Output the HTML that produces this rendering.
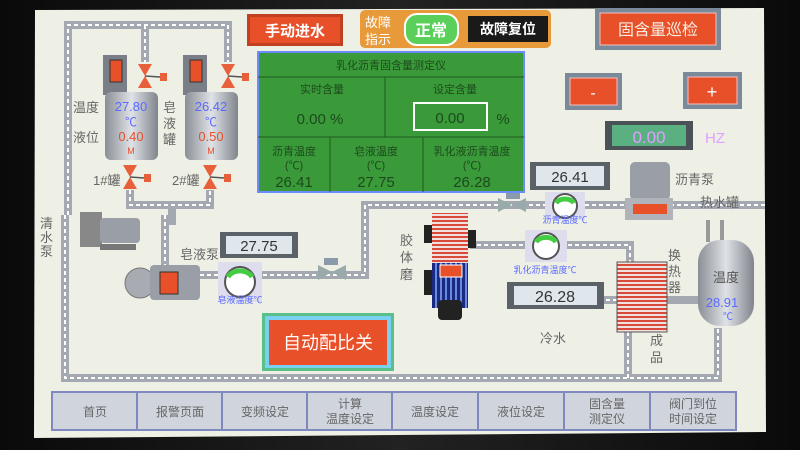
<!DOCTYPE html>
<html><head><meta charset="utf-8"><style>
body{margin:0;width:800px;height:450px;overflow:hidden;background:#111;}
svg{display:block}
text{font-family:"Liberation Sans","Noto Sans CJK SC",sans-serif;}
</style></head><body>
<svg width="800" height="450" viewBox="0 0 800 450" xmlns="http://www.w3.org/2000/svg">
<defs>
<pattern id="rs" width="4" height="4" patternUnits="userSpaceOnUse"><rect width="4" height="4" fill="#f0e0e0"/><rect width="4" height="2" fill="#d84a3a"/></pattern>
<pattern id="bs" width="5" height="5" patternUnits="userSpaceOnUse"><rect width="5" height="5" fill="#1a2a80"/><rect width="2" height="5" fill="#6a8ae0"/></pattern>
<linearGradient id="tk" x1="0" x2="1"><stop offset="0" stop-color="#8a8e96"/><stop offset=".5" stop-color="#dfe2e6"/><stop offset="1" stop-color="#80848c"/></linearGradient>
<linearGradient id="bz" x1="0" x2="1"><stop offset="0" stop-color="#0a0a0a"/><stop offset=".5" stop-color="#222"/><stop offset="1" stop-color="#0a0a0a"/></linearGradient>
</defs>
<rect width="800" height="450" fill="url(#bz)"/>
<!-- screen -->
<polygon points="35,10 764,8 766,432 34,438" fill="#eef0e6"/>

<!-- pipes -->
<g fill="none" stroke-linejoin="miter">
<g stroke="#a4a8b0" stroke-width="8">
<polyline points="68,215 68,25 228,25 228,62"/>
<line x1="145" y1="25" x2="145" y2="62"/>
<polyline points="130,190 130,205 210,205 210,190"/>
<line x1="172" y1="205" x2="172" y2="225"/>
<polyline points="65,215 65,378 718,378 718,328"/>
<line x1="165" y1="215" x2="165" y2="270"/>
<polyline points="200,275 365,275 365,205 640,205"/>
<line x1="670" y1="205" x2="765" y2="205"/>
<polyline points="470,245 630,245 630,262"/>
<line x1="515" y1="300" x2="617" y2="300"/>
<line x1="667" y1="300" x2="700" y2="300"/>
<line x1="628" y1="332" x2="628" y2="380"/>
</g>
<g stroke="#fff" stroke-width="2" stroke-dasharray="4 3">
<polyline points="68,215 68,25 228,25 228,62"/>
<line x1="145" y1="25" x2="145" y2="62"/>
<polyline points="130,190 130,205 210,205 210,190"/>
<polyline points="65,215 65,378 718,378 718,328"/>
<line x1="165" y1="215" x2="165" y2="270"/>
<polyline points="200,275 365,275 365,205 640,205"/>
<line x1="670" y1="205" x2="765" y2="205"/>
<polyline points="470,245 630,245 630,262"/>
<line x1="515" y1="300" x2="617" y2="300"/>
<line x1="628" y1="332" x2="628" y2="380"/>
</g>
</g>

<!-- tanks -->
<g>
<rect x="103" y="55" width="24" height="40" fill="#7a7e86"/><rect x="110" y="60" width="12" height="22" fill="#e8502a" stroke="#333"/>
<rect x="105" y="92" width="53" height="68" rx="6" fill="url(#tk)"/>
<rect x="183" y="55" width="24" height="40" fill="#7a7e86"/><rect x="190" y="60" width="12" height="22" fill="#e8502a" stroke="#333"/>
<rect x="185" y="92" width="53" height="68" rx="6" fill="url(#tk)"/>
<text x="131" y="111" font-size="13" fill="#5a6aff" text-anchor="middle">27.80</text>
<text x="131" y="126" font-size="12" fill="#5a6aff" text-anchor="middle">℃</text>
<text x="131" y="141" font-size="13" fill="#e8502a" text-anchor="middle">0.40</text>
<text x="131" y="154" font-size="9" fill="#e8502a" text-anchor="middle">M</text>
<text x="211" y="111" font-size="13" fill="#5a6aff" text-anchor="middle">26.42</text>
<text x="211" y="126" font-size="12" fill="#5a6aff" text-anchor="middle">℃</text>
<text x="211" y="141" font-size="13" fill="#e8502a" text-anchor="middle">0.50</text>
<text x="211" y="154" font-size="9" fill="#e8502a" text-anchor="middle">M</text>
</g>
<!-- valves -->
<g fill="#e8603a">
<polygon points="138,64 152,64 145,76"/><polygon points="138,88 152,88 145,76"/><rect x="160" y="73" width="7" height="8"/>
<polygon points="221,64 235,64 228,76"/><polygon points="221,88 235,88 228,76"/><rect x="242" y="73" width="7" height="8"/>
<polygon points="123,165 137,165 130,177"/><polygon points="123,189 137,189 130,177"/><rect x="144" y="174" width="7" height="8"/>
<polygon points="203,165 217,165 210,177"/><polygon points="203,189 217,189 210,177"/><rect x="224" y="174" width="7" height="8"/>
</g>
<g stroke="#555" stroke-width="1.5"><line x1="145" y1="76" x2="160" y2="77"/><line x1="228" y1="76" x2="242" y2="77"/><line x1="130" y1="177" x2="144" y2="178"/><line x1="210" y1="177" x2="224" y2="178"/></g>
<g font-size="13" fill="#666">
<text x="73" y="112">温度</text><text x="73" y="142">液位</text>
<text x="93" y="185">1#罐</text><text x="172" y="185">2#罐</text>
<text x="163" y="112">皂</text><text x="163" y="128">液</text><text x="163" y="144">罐</text>
<text x="40" y="228">清</text><text x="40" y="242">水</text><text x="40" y="256">泵</text>
<text x="180" y="259">皂液泵</text>
<text x="400" y="245">胶</text><text x="400" y="262">体</text><text x="400" y="279">磨</text>
<text x="540" y="343">冷水</text>
<text x="668" y="260">换</text><text x="668" y="276">热</text><text x="668" y="292">器</text>
<text x="650" y="345">成</text><text x="650" y="362">品</text>
<text x="700" y="207">热水罐</text>
<text x="675" y="184">沥青泵</text>
</g>

<!-- clear water pump -->
<rect x="80" y="212" width="22" height="35" fill="#888"/><rect x="100" y="218" width="40" height="25" rx="4" fill="#9a9ea6"/><rect x="100" y="244" width="36" height="6" fill="#777"/>
<!-- soap pump -->
<circle cx="140" cy="283" r="15" fill="#a8acb2" stroke="#777"/><rect x="150" y="265" width="50" height="35" rx="4" fill="#9a9ea6"/><rect x="160" y="272" width="18" height="22" fill="#e8502a" stroke="#333"/>
<!-- displays -->
<rect x="220" y="232" width="78" height="26" fill="#5a6268"/><rect x="226" y="236" width="66" height="18" fill="#dfe6ec"/><text x="259" y="251" font-size="15" fill="#333" text-anchor="middle">27.75</text>
<rect x="530" y="162" width="80" height="28" fill="#5a6268"/><rect x="536" y="166" width="68" height="20" fill="#dfe6ec"/><text x="570" y="182" font-size="15" fill="#333" text-anchor="middle">26.41</text>
<rect x="507" y="282" width="97" height="27" fill="#5a6268"/><rect x="514" y="286" width="83" height="19" fill="#dfe6ec"/><text x="555" y="302" font-size="16" fill="#333" text-anchor="middle">26.28</text>
<!-- gauges -->
<g>
<rect x="218" y="262" width="44" height="40" fill="#dde"/><circle cx="240" cy="282" r="15" fill="#fff" stroke="#555" stroke-width="2"/><path d="M228,277 A13,10 0 0 1 252,277" stroke="#4c4" stroke-width="5" fill="none"/>
<text x="240" y="303" font-size="9" fill="#5a6aff" text-anchor="middle">皂液温度℃</text>
<rect x="525" y="230" width="42" height="32" fill="#dde"/><circle cx="546" cy="246" r="13" fill="#fff" stroke="#555" stroke-width="2"/><path d="M536,242 A11,8 0 0 1 556,242" stroke="#4c4" stroke-width="5" fill="none"/>
<text x="545" y="273" font-size="9" fill="#5a6aff" text-anchor="middle">乳化沥青温度℃</text>
<rect x="545" y="192" width="40" height="28" fill="#dde"/><circle cx="565" cy="206" r="12" fill="#fff" stroke="#555" stroke-width="2"/><path d="M556,203 A10,7 0 0 1 574,203" stroke="#4c4" stroke-width="5" fill="none"/>
<text x="565" y="223" font-size="9" fill="#5a6aff" text-anchor="middle">沥青温度℃</text>
</g>
<!-- valves on line -->
<polygon points="318,265 318,280 332,272" fill="#9aa"/><polygon points="346,265 346,280 332,272" fill="#9aa"/><rect x="324" y="258" width="14" height="7" fill="#8a9aaa"/>
<polygon points="498,198 498,212 512,205" fill="#9aa"/><polygon points="526,198 526,212 512,205" fill="#9aa"/><rect x="506" y="193" width="14" height="6" fill="#8a9aaa"/>
<!-- asphalt pump -->
<rect x="630" y="162" width="40" height="38" rx="5" fill="#9a9ea6"/><rect x="625" y="198" width="48" height="22" fill="#b0b4ba"/><rect x="633" y="204" width="34" height="10" fill="#e8502a"/>
<!-- colloid mill -->
<rect x="432" y="213" width="36" height="50" fill="url(#rs)"/>
<rect x="432" y="263" width="36" height="45" fill="url(#bs)"/>
<rect x="438" y="300" width="24" height="20" rx="4" fill="#222"/>
<rect x="440" y="265" width="22" height="12" fill="#e8502a" stroke="#fff"/>
<rect x="424" y="225" width="8" height="18" fill="#222"/><rect x="424" y="270" width="8" height="25" fill="#222"/><rect x="468" y="230" width="8" height="18" fill="#222"/>
<!-- heat exchanger -->
<rect x="617" y="262" width="50" height="70" fill="url(#rs)" stroke="#555"/>
<!-- hot water tank -->
<rect x="706" y="220" width="4" height="22" fill="#999"/><rect x="720" y="220" width="4" height="22" fill="#999"/>
<rect x="698" y="240" width="56" height="86" rx="22" fill="url(#tk)"/>
<text x="726" y="282" font-size="13" fill="#555" text-anchor="middle">温度</text>
<text x="722" y="307" font-size="13" fill="#5a6aff" text-anchor="middle">28.91</text>
<text x="728" y="320" font-size="10" fill="#5a6aff" text-anchor="middle">℃</text>

<!-- top buttons -->
<rect x="247" y="14" width="96" height="32" fill="#c04020" /><rect x="250" y="17" width="90" height="26" fill="#e8502a"/>
<text x="295" y="36" font-size="15" fill="#fff" text-anchor="middle" font-weight="bold">手动进水</text>
<rect x="360" y="10" width="191" height="38" rx="5" fill="#e89a3a"/>
<text x="365" y="27" font-size="13" fill="#fff">故障</text><text x="365" y="44" font-size="13" fill="#fff">指示</text>
<rect x="405" y="14" width="53" height="31" rx="12" fill="#5ad05a" stroke="#fff" stroke-width="2"/>
<text x="431" y="36" font-size="16" fill="#fff" text-anchor="middle" font-weight="bold">正常</text>
<rect x="468" y="16" width="80" height="26" fill="#1a1a1a"/>
<text x="508" y="34" font-size="14" fill="#fff" text-anchor="middle" font-weight="bold">故障复位</text>
<rect x="595" y="8" width="126" height="42" fill="#7a8a9a"/><rect x="600" y="13" width="116" height="32" fill="#e8502a" stroke="#f4c0c0"/>
<text x="658" y="35" font-size="16" fill="#f4ede0" text-anchor="middle">固含量巡检</text>

<!-- green panel -->
<rect x="258" y="52" width="266" height="140" fill="#3a9a3a" stroke="#6a8aff" stroke-width="2"/>
<g stroke="#1f5a1f" stroke-width="1"><line x1="258" y1="77" x2="524" y2="77"/><line x1="258" y1="137" x2="524" y2="137"/><line x1="385" y1="77" x2="385" y2="137"/><line x1="330" y1="137" x2="330" y2="192"/><line x1="423" y1="137" x2="423" y2="192"/></g>
<g font-size="11" fill="#1c4a1c" text-anchor="middle">
<text x="391" y="69">乳化沥青固含量测定仪</text>
<text x="322" y="93">实时含量</text><text x="455" y="93">设定含量</text>
<text x="294" y="155">沥青温度</text><text x="294" y="169">(℃)</text>
<text x="376" y="155">皂液温度</text><text x="376" y="169">(℃)</text>
<text x="472" y="155">乳化液沥青温度</text><text x="472" y="169">(℃)</text>
</g>
<g font-size="15" fill="#1c4a1c" text-anchor="middle">
<text x="320" y="124">0.00  %</text>
<text x="294" y="187">26.41</text><text x="376" y="187">27.75</text><text x="472" y="187">26.28</text>
<text x="503" y="124">%</text>
</g>
<rect x="414" y="103" width="73" height="27" fill="#3a9a3a" stroke="#fff" stroke-width="2"/>
<text x="450" y="123" font-size="15" fill="#1c4a1c" text-anchor="middle">0.00</text>

<!-- +/- -->
<rect x="565" y="73" width="57" height="37" fill="#7a8a9a"/><rect x="570" y="78" width="47" height="27" fill="#e8502a" stroke="#f4c0c0"/><text x="593" y="98" font-size="16" fill="#fff" text-anchor="middle">-</text>
<rect x="683" y="72" width="59" height="37" fill="#7a8a9a"/><rect x="688" y="77" width="49" height="27" fill="#e8502a" stroke="#f4c0c0"/><text x="712" y="98" font-size="18" fill="#fff" text-anchor="middle">+</text>
<rect x="605" y="121" width="88" height="29" fill="#4a5258"/><rect x="612" y="125" width="74" height="21" fill="#5ab080"/>
<text x="649" y="143" font-size="17" fill="#e0a0ff" text-anchor="middle">0.00</text>
<text x="705" y="143" font-size="15" fill="#e0a0ff">HZ</text>

<!-- auto ratio -->
<rect x="262" y="313" width="132" height="58" fill="#5ac08a"/><rect x="265" y="316" width="126" height="52" fill="#7ad0f0"/><rect x="269" y="320" width="118" height="45" fill="#e8502a"/>
<text x="328" y="349" font-size="18" fill="#fff" text-anchor="middle">自动配比关</text>

<!-- bottom buttons -->
<g font-size="12" fill="#666" text-anchor="middle">
<rect x="52" y="392" width="85" height="38" fill="#d0d4dc" stroke="#8088c0" stroke-width="2"/><text x="95" y="416">首页</text>
<rect x="137" y="392" width="85" height="38" fill="#d0d4dc" stroke="#8088c0" stroke-width="2"/><text x="180" y="416">报警页面</text>
<rect x="222" y="392" width="85" height="38" fill="#d0d4dc" stroke="#8088c0" stroke-width="2"/><text x="265" y="416">变频设定</text>
<rect x="307" y="392" width="85" height="38" fill="#d0d4dc" stroke="#8088c0" stroke-width="2"/><text x="350" y="408">计算</text><text x="350" y="423">温度设定</text>
<rect x="392" y="392" width="86" height="38" fill="#d0d4dc" stroke="#8088c0" stroke-width="2"/><text x="435" y="416">温度设定</text>
<rect x="478" y="392" width="86" height="38" fill="#d0d4dc" stroke="#8088c0" stroke-width="2"/><text x="521" y="416">液位设定</text>
<rect x="564" y="392" width="86" height="38" fill="#d0d4dc" stroke="#8088c0" stroke-width="2"/><text x="607" y="408">固含量</text><text x="607" y="423">测定仪</text>
<rect x="650" y="392" width="86" height="38" fill="#d0d4dc" stroke="#8088c0" stroke-width="2"/><text x="693" y="408">阀门到位</text><text x="693" y="423">时间设定</text>
</g>
</svg>
</body></html>
